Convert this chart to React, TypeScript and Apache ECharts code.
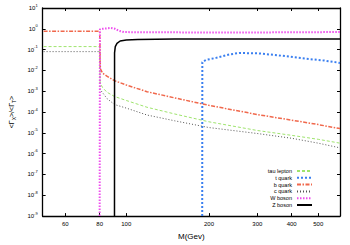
import React, { useEffect, useRef } from "react";
import * as echarts from "echarts";

const FONT = "Liberation Sans, Arial, sans-serif";

const xTickLabels = [60, 80, 100, 200, 300, 400, 500];
const xMin = 49.6;
const xMax = 600;
const yMinExp = -9;
const yMaxExp = 1;

const seriesNames = ["tau lepton", "t quark", "b quark", "c quark", "W boson", "Z boson"];

const tauMass = [50, 80, 80.3, 82, 85, 90.6, 100, 119, 150, 200, 300, 400, 500, 600];
const tauRatio = [0.14, 0.14, 2.5e-3, 1.5e-3, 9e-4, 5.6e-4, 3.6e-4, 1.7e-4, 8.1e-5, 3.4e-5, 1.3e-5, 7.6e-6, 4.9e-6, 3.2e-6];

const topMass = [189, 189.2, 195, 212, 238, 258, 304, 368, 446, 524, 600];
const topRatio = [1e-9, 0.025, 0.032, 0.04, 0.059, 0.069, 0.066, 0.051, 0.037, 0.03, 0.023];

const bottomMass = [50, 80, 80.5, 82, 85, 90.6, 100, 119, 150, 200, 300, 400, 500, 600];
const bottomRatio = [0.76, 0.76, 0.012, 7.4e-3, 5.3e-3, 3.2e-3, 2e-3, 9.5e-4, 4.8e-4, 2.1e-4, 7.6e-5, 4.1e-5, 2.5e-5, 1.6e-5];

const charmMass = [50, 80, 80.3, 82, 85, 90.6, 100, 119, 150, 200, 300, 400, 500, 600];
const charmRatio = [0.08, 0.08, 1.2e-3, 8.5e-4, 4.5e-4, 2.3e-4, 1.55e-4, 7.2e-5, 3.8e-5, 1.8e-5, 9.3e-6, 5.5e-6, 3.2e-6, 1.9e-6];

const wMass = [80, 80.2, 82, 85, 88, 91, 94, 98, 110, 200, 300, 400, 600];
const wRatio = [1e-9, 0.95, 1.0, 1.05, 1.1, 1.0, 0.8, 0.7, 0.68, 0.67, 0.67, 0.68, 0.7];

const zMass = [90.6, 90.65, 91.2, 92.5, 95, 100, 110, 150, 600];
const zRatio = [1e-9, 0.07, 0.14, 0.2, 0.26, 0.29, 0.31, 0.32, 0.32];

const toPoints = (m: number[], v: number[]) => m.map((x, i) => [Math.log10(x), Math.log10(v[i])]);

export default function App() {
  const ref = useRef<HTMLDivElement>(null);
  useEffect(() => {
    if (!ref.current) return;
    const chart = echarts.init(ref.current, undefined, { renderer: "svg" });
    const tickVals = xTickLabels.map((t) => Math.log10(t));
    const axisLine = { show: true, onZero: false, lineStyle: { color: "#000", width: 1.3 } };
    const xCommon = {
      type: "value" as const,
      min: Math.log10(xMin),
      max: Math.log10(xMax),
      axisLine,
      splitLine: { show: false },
      axisTick: { inside: true, length: 3, lineStyle: { color: "#000", width: 1 }, customValues: tickVals },
    };
    const yCommon = {
      type: "value" as const,
      min: yMinExp,
      max: yMaxExp,
      interval: 1,
      axisLine,
      splitLine: { show: false },
      axisTick: { inside: true, length: 3, lineStyle: { color: "#000", width: 1 } },
    };
    const lineSeries = (name: string, data: number[][], color: string, width: number, type: any) => ({
      name,
      type: "line" as const,
      data,
      symbol: "none",
      xAxisIndex: 0,
      yAxisIndex: 0,
      lineStyle: { color, width, type },
      itemStyle: { color },
    });
    chart.setOption({
      animation: false,
      backgroundColor: "#fff",
      textStyle: { fontFamily: FONT },
      grid: { left: 37, right: 10, top: 8, bottom: 23, containLabel: false },
      legend: {
        data: seriesNames,
        orient: "vertical",
        right: 37,
        top: 168,
        align: "right",
        itemWidth: 15,
        itemHeight: 5,
        itemGap: 0.8,
        padding: 0,
        itemStyle: { opacity: 0 },
        textStyle: { fontSize: 5.5, lineHeight: 5, color: "#000", fontFamily: FONT, padding: [0, 0, 0, 0] },
      },
      xAxis: [
        {
          ...xCommon,
          position: "bottom",
          name: "M(Gev)",
          nameLocation: "middle",
          nameGap: 15,
          nameTextStyle: { fontSize: 8, color: "#000", fontFamily: FONT },
          axisLabel: {
            fontSize: 6,
            color: "#000",
            margin: 5,
            customValues: tickVals,
            formatter: (v: number) => String(Math.round(Math.pow(10, v))),
          },
        },
        { ...xCommon, position: "top", axisLabel: { show: false } },
      ],
      yAxis: [
        {
          ...yCommon,
          position: "left",
          name: "<Γ{s|X}>/<Γ{s|T}>",
          nameLocation: "middle",
          nameGap: 24,
          nameRotate: 90,
          nameTextStyle: {
            fontSize: 7,
            color: "#000",
            fontFamily: FONT,
            rich: { s: { fontSize: 5, lineHeight: 10, verticalAlign: "bottom", color: "#000", fontFamily: FONT } },
          },
          axisLabel: {
            margin: 5,
            color: "#000",
            formatter: (v: number) => `{b|10}{e|${Math.round(v)}}`,
            rich: {
              b: { fontSize: 6, lineHeight: 10, color: "#000", fontFamily: FONT },
              e: { fontSize: 4, lineHeight: 4, verticalAlign: "top", color: "#000", fontFamily: FONT },
            },
          },
        },
        { ...yCommon, position: "right", axisLabel: { show: false } },
      ],
      series: [
        lineSeries(seriesNames[0], toPoints(tauMass, tauRatio), "#9fe46e", 1, [3, 2]),
        lineSeries(seriesNames[1], toPoints(topMass, topRatio), "#3a7ff0", 2, [2, 2]),
        lineSeries(seriesNames[2], toPoints(bottomMass, bottomRatio), "#f0684c", 1.5, [4, 1.5, 1.5, 1.5]),
        lineSeries(seriesNames[3], toPoints(charmMass, charmRatio), "#555555", 1, [1, 2]),
        lineSeries(seriesNames[4], toPoints(wMass, wRatio), "#ee4eee", 2, [1.5, 1.5]),
        lineSeries(seriesNames[5], toPoints(zMass, zRatio), "#000000", 1.5, "solid"),
      ],
    });
    return () => chart.dispose();
  }, []);
  return <div ref={ref} style={{ width: 350, height: 245, position: "absolute", left: 0, top: 0 }} />;
}
